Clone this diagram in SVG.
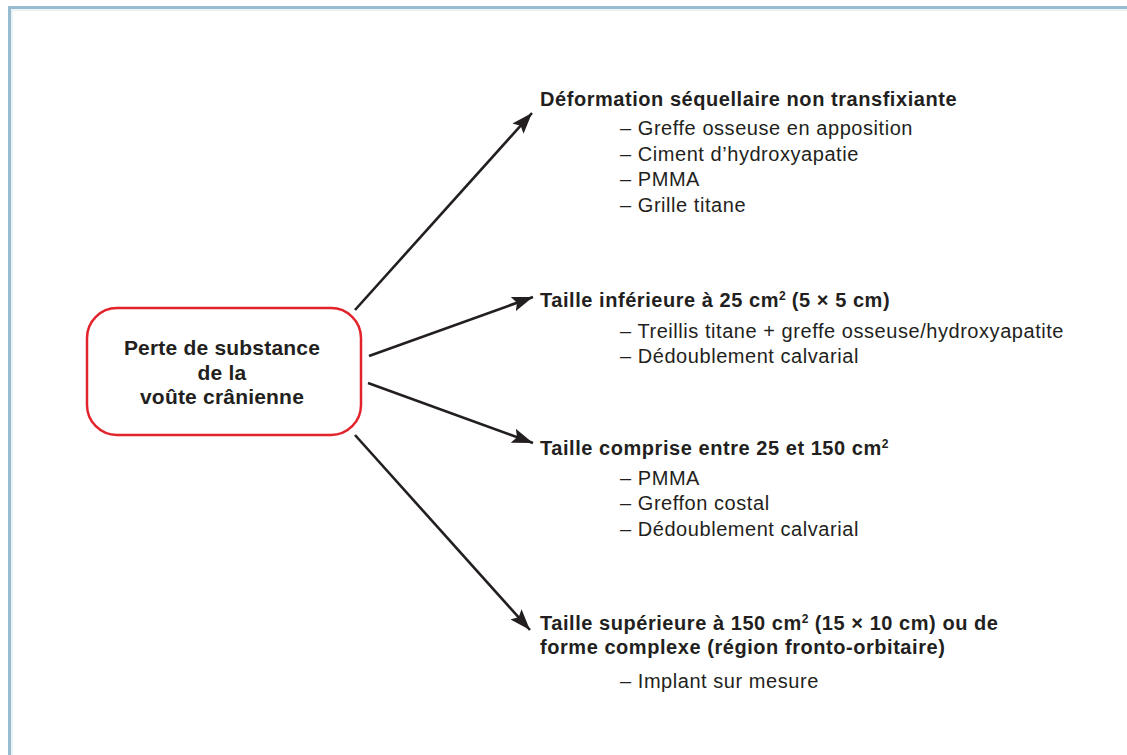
<svg xmlns="http://www.w3.org/2000/svg" width="1127" height="755" viewBox="0 0 1127 755">
<style>
text{font-family:"Liberation Sans",Arial,sans-serif;fill:#231f20;font-size:20px;letter-spacing:0.55px}
.b{font-weight:bold}
.c{font-size:21px;font-weight:bold;text-anchor:middle;letter-spacing:0.2px}
.sup{font-size:12px;letter-spacing:0}
.conn line{stroke:#231f20;stroke-width:2.6;fill:none}
</style>
<defs>
<marker id="ah" viewBox="0 0 21 15" refX="21" refY="7.5" markerWidth="21" markerHeight="15" markerUnits="userSpaceOnUse" orient="auto">
<path d="M0,0 L21,7.5 L0,15 L4,7.5 Z" fill="#231f20"/>
</marker>
</defs>
<rect width="1127" height="755" fill="#ffffff"/>
<path d="M9.5,755 V7.5 H1127" fill="none" stroke="#97bccf" stroke-width="3"/>
<path d="M12,755 V10 H1127" fill="none" stroke="#d8e8f0" stroke-width="1"/>
<g id="root">
<rect x="87" y="308" width="274" height="127" rx="30" ry="30" fill="#fff" stroke="#e3232b" stroke-width="2.5"/>
<text class="c" x="222" y="355">Perte de substance</text>
<text class="c" x="222" y="380">de la</text>
<text class="c" x="222" y="404">voûte crânienne</text>
</g>
<g class="conn" id="connectors">
<line x1="355" y1="310" x2="532" y2="113" marker-end="url(#ah)"/>
<line x1="369" y1="356" x2="533" y2="297" marker-end="url(#ah)"/>
<line x1="368" y1="383" x2="533" y2="443" marker-end="url(#ah)"/>
<line x1="355" y1="435" x2="530" y2="630" marker-end="url(#ah)"/>
</g>
<g id="n1">
<text class="b" x="540" y="106">Déformation séquellaire non transfixiante</text>
<text x="620" y="135">– Greffe osseuse en apposition</text>
<text x="620" y="160.5">– Ciment d’hydroxyapatie</text>
<text x="620" y="186">– PMMA</text>
<text x="620" y="211.5">– Grille titane</text>
</g>
<g id="n2">
<text class="b" x="540" y="307">Taille inférieure à 25 cm<tspan class="sup" dy="-7">2</tspan><tspan dy="7"> (5 × 5 cm)</tspan></text>
<text x="620" y="337.5">– Treillis titane + greffe osseuse/hydroxyapatite</text>
<text x="620" y="363">– Dédoublement calvarial</text>
</g>
<g id="n3">
<text class="b" x="540" y="455">Taille comprise entre 25 et 150 cm<tspan class="sup" dy="-7">2</tspan></text>
<text x="620" y="484.5">– PMMA</text>
<text x="620" y="510">– Greffon costal</text>
<text x="620" y="535.5">– Dédoublement calvarial</text>
</g>
<g id="n4">
<text class="b" x="540" y="630">Taille supérieure à 150 cm<tspan class="sup" dy="-7">2</tspan><tspan dy="7"> (15 × 10 cm) ou de</tspan></text>
<text class="b" x="540" y="654">forme complexe (région fronto-orbitaire)</text>
<text x="620" y="688">– Implant sur mesure</text>
</g>
</svg>
